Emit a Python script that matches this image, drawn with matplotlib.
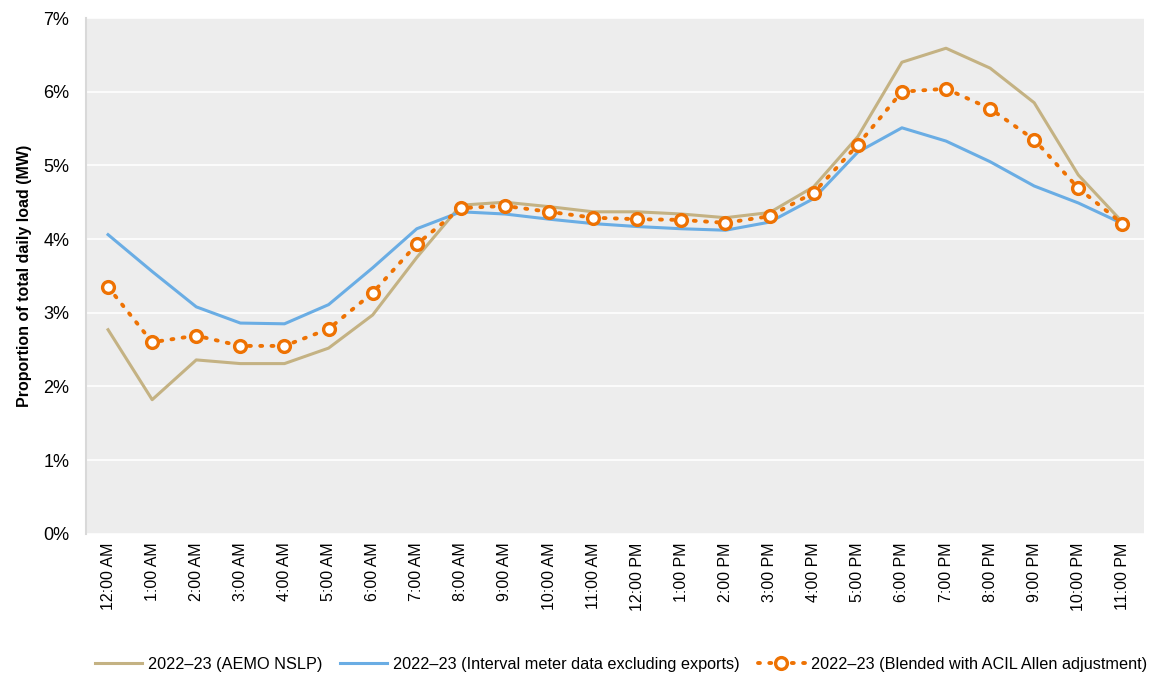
import matplotlib
matplotlib.use("Agg")
import matplotlib.pyplot as plt
from matplotlib.ticker import FuncFormatter

hours = ["12:00 AM", "1:00 AM", "2:00 AM", "3:00 AM", "4:00 AM", "5:00 AM", "6:00 AM",
         "7:00 AM", "8:00 AM", "9:00 AM", "10:00 AM", "11:00 AM", "12:00 PM", "1:00 PM",
         "2:00 PM", "3:00 PM", "4:00 PM", "5:00 PM", "6:00 PM", "7:00 PM", "8:00 PM",
         "9:00 PM", "10:00 PM", "11:00 PM"]

aemo_nslp = [2.77, 1.82, 2.36, 2.31, 2.31, 2.52, 2.97, 3.75, 4.46, 4.50, 4.44, 4.37,
             4.37, 4.34, 4.29, 4.36, 4.71, 5.39, 6.40, 6.59, 6.32, 5.85, 4.87, 4.23]
interval_meter = [4.06, 3.56, 3.08, 2.86, 2.85, 3.11, 3.61, 4.14, 4.37, 4.34, 4.27, 4.21,
                  4.17, 4.14, 4.12, 4.23, 4.55, 5.18, 5.51, 5.33, 5.05, 4.72, 4.49, 4.21]
blended = [3.35, 2.60, 2.69, 2.55, 2.55, 2.78, 3.27, 3.93, 4.42, 4.45, 4.37, 4.29,
           4.27, 4.26, 4.22, 4.31, 4.63, 5.28, 6.00, 6.04, 5.77, 5.35, 4.69, 4.21]

series_labels = ["2022\u201323 (AEMO NSLP)",
                 "2022\u201323 (Interval meter data excluding exports)",
                 "2022\u201323 (Blended with ACIL Allen adjustment)"]

plt.rcParams['font.family'] = ['Liberation Sans', 'DejaVu Sans']

fig = plt.figure(figsize=(11.53, 6.8), dpi=100)
ax = fig.add_axes([0.0746, 0.215, 0.918, 0.7585])
ax.set_facecolor('#EDEDED')

x = list(range(len(hours)))
ax.plot(x, aemo_nslp, color='#C4B283', lw=2.2, label=series_labels[0], zorder=3)
ax.plot(x, interval_meter, color='#6AADE4', lw=2.2, label=series_labels[1], zorder=3)
ax.plot(x, blended, color='#EE7203', lw=2.8, ls=(0, (0.5, 2.4)), dash_capstyle='round',
        marker='o', markersize=8.5, markerfacecolor='white', markeredgecolor='#EE7203',
        markeredgewidth=2.4, label=series_labels[2], zorder=4)

ax.set_xlim(-0.5, 23.5)
ax.set_ylim(0, 7)
ax.set_yticks([0, 1, 2, 3, 4, 5, 6, 7])
ax.yaxis.set_major_formatter(FuncFormatter(lambda v, p: f"{v:.0f}%"))
ax.set_xticks(x)
ax.set_xticklabels(hours, rotation=90, fontsize=11.5)
ax.tick_params(axis='y', labelsize=13, length=0, pad=12)
ax.tick_params(axis='x', length=0, pad=6)
ax.grid(axis='y', color='white', lw=1.2)
ax.set_axisbelow(True)
for s in ['top', 'right', 'bottom']:
    ax.spines[s].set_visible(False)
ax.spines['left'].set_color('#D9D9D9')
ax.spines['left'].set_linewidth(1.5)

ax.set_ylabel("Proportion of total daily load (MW)", fontsize=11.5, fontweight='bold', labelpad=8)

fig.legend(loc='lower center', bbox_to_anchor=(0.5386, -0.01), ncol=3, frameon=False,
           fontsize=11.7, handlelength=2.9, columnspacing=1.1, handletextpad=0.37)

fig.savefig("out.png", dpi=100)
